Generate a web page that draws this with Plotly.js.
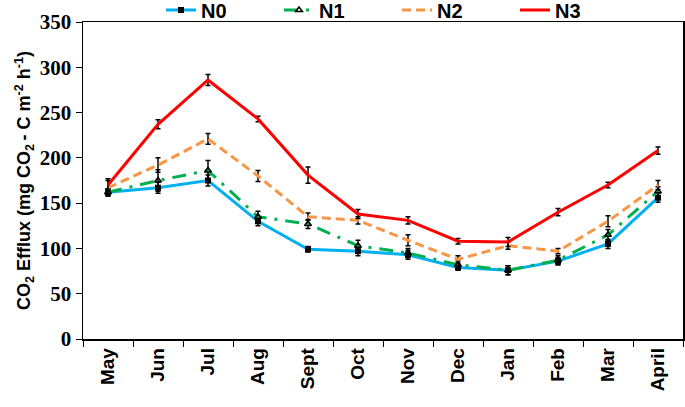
<!DOCTYPE html>
<html>
<head>
<meta charset="utf-8">
<script src="https://cdn.plot.ly/plotly-3.0.1.min.js"></script>
<style>html,body{margin:0;padding:0;background:#fff;}#chart{width:685px;height:407px;}</style>
</head>
<body>
<div id="chart"></div>
<script>
const months = ["May","Jun","Jul","Aug","Sept","Oct","Nov","Dec","Jan","Feb","Mar","April"];
const n0 = [162,167,175,130,99,97,93,79,76,86,105,156];
const n0Err = [4,6,6,5,3,5,5,3,5,4,5,5];
const n1 = [162,175,186,135,127,103,95,82,76,87,115,163];
const n1Err = [4,12,11,6,5,6,5,4,5,5,6,5];
const n2 = [167,192,221,180,135,131,109,88,103,97,130,170];
const n2Err = [8,8,6,6,4,4,6,4,4,3,6,5];
const n3 = [170,237,286,243,181,138,131,108,107,140,170,208];
const n3Err = [7,5,6,3,9,5,4,3,5,4,3,4];

function errY(arr){ return {type:"data", array:arr, visible:true, color:"#000", thickness:1.5, width:2.5}; }

const traces = [
  {name:"N0", x:months, y:n0, error_y:errY(n0Err), mode:"lines+markers",
   line:{color:"#00B0F0", width:3}, marker:{symbol:"square", size:6, color:"#000"}},
  {name:"N1", x:months, y:n1, error_y:errY(n1Err), mode:"lines+markers",
   line:{color:"#00B050", width:3, dash:"14px,8px,3px,8px"}, marker:{symbol:"triangle-up-open", size:6, color:"#000", line:{width:1.5,color:"#000"}}},
  {name:"N2", x:months, y:n2, error_y:errY(n2Err), mode:"lines",
   line:{color:"#F79646", width:3, dash:"9px,5px"}},
  {name:"N3", x:months, y:n3, error_y:errY(n3Err), mode:"lines",
   line:{color:"#FF0000", width:3}}
];

const layout = {
  width:685, height:407,
  margin:{l:83, r:2, t:22, b:68, autoexpand:false},
  paper_bgcolor:"#fff", plot_bgcolor:"#fff",
  showlegend:true,
  legend:{orientation:"h", x:0.13, xanchor:"left", y:1.038, yanchor:"middle",
    font:{family:"Liberation Sans, Arial, sans-serif", size:20, color:"#000", weight:"bold"},
    entrywidth:73, entrywidthmode:"pixels", traceorder:"normal", itemwidth:30, tracegroupgap:0,
    bgcolor:"rgba(0,0,0,0)"},
  xaxis:{type:"category", tickson:"boundaries", ticks:"outside", ticklen:6, tickcolor:"#000",
    tickangle:-90, showline:true, linecolor:"#000", linewidth:1.5, mirror:true, showgrid:false,
    tickfont:{family:"Liberation Sans, Arial, sans-serif", size:19, color:"#000", weight:"bold"},
    range:[-0.5, 11.5], automargin:false},
  yaxis:{range:[0,350], dtick:50, ticks:"outside", ticklen:6, tickcolor:"#000",
    showline:true, linecolor:"#000", linewidth:1.5, mirror:true, showgrid:false, zeroline:false,
    tickfont:{family:"Liberation Serif, Times New Roman, serif", size:21, color:"#000", weight:"bold"},
    automargin:false,
    title:{text:"CO<sub>2</sub> Efflux (mg CO<sub>2 </sub>- C m<sup>-2</sup> h<sup>-1</sup>)",
      font:{family:"Liberation Sans, Arial, sans-serif", size:18, color:"#000", weight:"bold"}, standoff:4}}
};

Plotly.newPlot("chart", traces, layout, {displayModeBar:false, staticPlot:true});
</script>
</body>
</html>
